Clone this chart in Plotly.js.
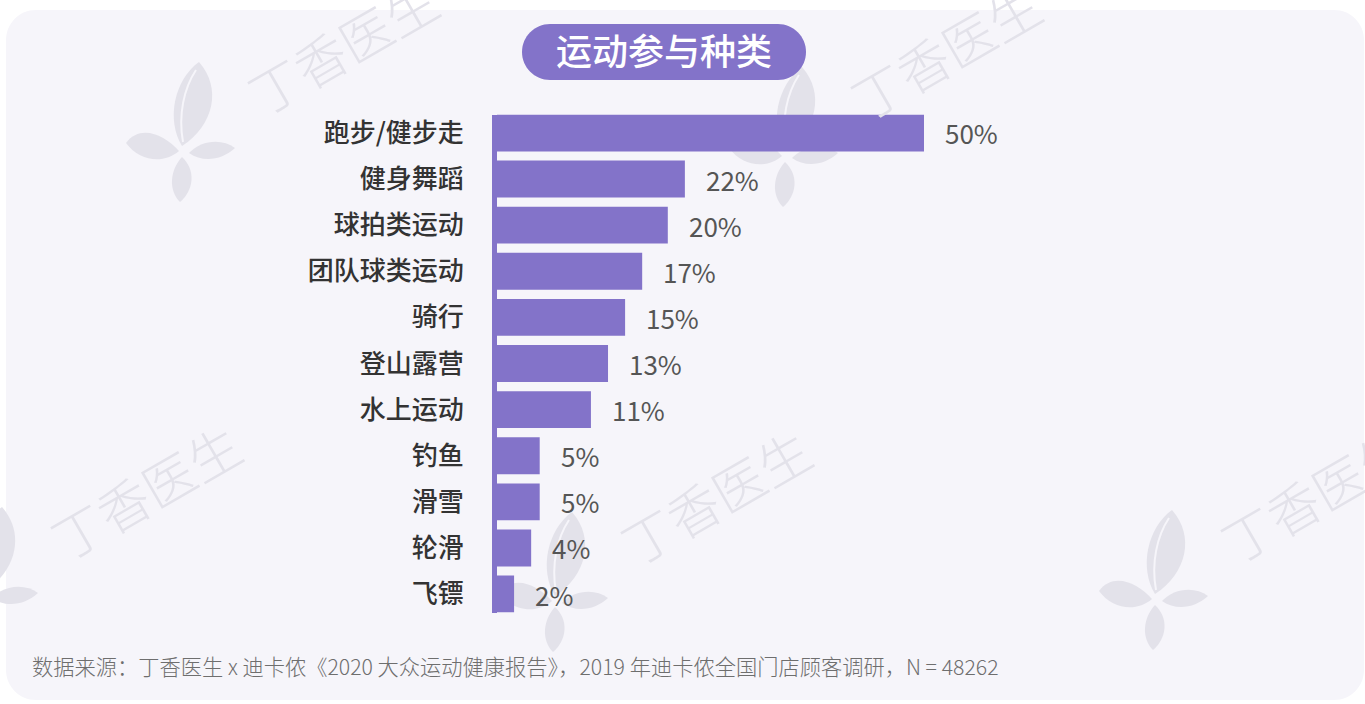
<!DOCTYPE html>
<html>
<head>
<meta charset="utf-8">
<script src="https://cdn.plot.ly/plotly-3.0.1.min.js"></script>
<style>
  html, body { margin: 0; padding: 0; background: #ffffff; }
  #chart { width: 1365px; height: 704px; }
</style>
</head>
<body>
<div id="chart"></div>
<script>
// Sport categories (top to bottom) and share of participants, in percent
const categories = ['跑步/健步走', '健身舞蹈', '球拍类运动', '团队球类运动', '骑行', '登山露营', '水上运动', '钓鱼', '滑雪', '轮滑', '飞镖'];
const shares = [50, 22, 20, 17, 15, 13, 11, 5, 5, 4, 2];
const valueLabels = shares.map(v => v + '%');

const chartTitle = '运动参与种类';
const sourceNote = '数据来源：丁香医生 x 迪卡侬《2020 大众运动健康报告》，2019 年迪卡侬全国门店顾客调研，N = 48262';
const brandText = '丁香医生';

// ---- page geometry & styling ----
const W = 1365, H = 704;
const FAMILY = '"Noto Sans CJK SC", "Noto Sans", sans-serif';
const PURPLE = '#8373C9';
const CARD = '#F6F5FA';
const MARK = '#E3E2EA';

// pixel -> paper coordinates (margins are zero, so paper == page)
const fx = x => x / W;
const fy = y => 1 - y / H;
function pt(x, y) { return fx(x).toFixed(5) + ',' + fy(y).toFixed(5); }
function toPath(segs, ox, oy) {
  return segs.map(s => s[0] + (s.length > 1 ? ' ' + s.slice(1).map(p => pt(ox + p[0], oy + p[1])).join(' ') : '')).join(' ');
}
function roundRect(x0, y0, x1, y1, r) {
  const c = 0.5523 * r;
  return [
    ['M', [x0 + r, y0]], ['L', [x1 - r, y0]],
    ['C', [x1 - r + c, y0], [x1, y0 + r - c], [x1, y0 + r]], ['L', [x1, y1 - r]],
    ['C', [x1, y1 - r + c], [x1 - r + c, y1], [x1 - r, y1]], ['L', [x0 + r, y1]],
    ['C', [x0 + r - c, y1], [x0, y1 - r + c], [x0, y1 - r]], ['L', [x0, y0 + r]],
    ['C', [x0, y0 + r - c], [x0 + r - c, y0], [x0 + r, y0]], ['Z']
  ];
}

// brand leaf logo, relative to its centre
const leafTop = [['M', [0, -4]], ['C', [-16, -30], [-8, -70], [17, -88]], ['C', [40, -62], [32, -25], [0, -4]], ['Z']];
const leafLeft = [['M', [-3, 1]], ['C', [-18, -16], [-42, -26], [-56, -7]], ['C', [-42, 12], [-18, 14], [-3, 1]], ['Z']];
const leafRight = [['M', [7, 3]], ['C', [19, -10], [40, -12], [53, -2]], ['C', [40, 10], [21, 13], [7, 3]], ['Z']];
const leafBottom = [['M', [0, 7]], ['C', [14, 20], [12, 40], [-2, 52]], ['C', [-14, 40], [-12, 20], [0, 7]], ['Z']];
const leafVein = [['M', [1, -8]], ['C', [-4, -35], [2, -62], [14, -80]]];

const logoCentres = [[182, 150], [785, 155], [-15, 595], [555, 600], [1155, 598]];

const shapes = [];
// card background
shapes.push({ type: 'path', xref: 'paper', yref: 'paper', layer: 'below',
  path: toPath(roundRect(6, 10, 1364, 700, 30), 0, 0), fillcolor: CARD, line: { width: 0 } });
// brand marks
logoCentres.forEach(([cx, cy]) => {
  [leafTop, leafLeft, leafRight, leafBottom].forEach(seg => {
    shapes.push({ type: 'path', xref: 'paper', yref: 'paper', layer: 'below',
      path: toPath(seg, cx, cy), fillcolor: MARK, line: { width: 0 } });
  });
  shapes.push({ type: 'path', xref: 'paper', yref: 'paper', layer: 'below',
    path: toPath(leafVein, cx, cy), line: { width: 2, color: CARD } });
});
// title pill
shapes.push({ type: 'path', xref: 'paper', yref: 'paper', layer: 'below',
  path: toPath(roundRect(522, 24, 806, 80, 28), 0, 0), fillcolor: PURPLE, line: { width: 0 } });

const annotations = [];
logoCentres.forEach(([cx, cy]) => {
  annotations.push({ xref: 'paper', yref: 'paper', x: fx(cx + 160), y: fy(cy - 105),
    xanchor: 'center', yanchor: 'middle', text: brandText, textangle: -30, showarrow: false,
    font: { family: FAMILY, size: 52, color: MARK, weight: 300 } });
});
categories.forEach((c, i) => {
  annotations.push({ xref: 'x', yref: 'y', x: shares[i], y: c, text: valueLabels[i],
    xanchor: 'left', yanchor: 'middle', xshift: 19, showarrow: false,
    font: { family: FAMILY, size: 26, color: '#555555', weight: 400 } });
});
annotations.push({ xref: 'paper', yref: 'paper', x: fx(30), y: fy(665), xanchor: 'left', yanchor: 'middle',
  text: sourceNote, showarrow: false, font: { family: FAMILY, size: 21.25, color: '#6e6e6e', weight: 300 } });

const X0 = 497, PX_PER_UNIT = (924 - 497) / 50, XMAX = 60;

const data = [{
  type: 'bar', orientation: 'h',
  x: shares, y: categories,
  marker: { color: PURPLE, line: { width: 0 } },
  hoverinfo: 'skip'
}];

const layout = {
  width: W, height: H,
  margin: { l: 0, r: 0, t: 0, b: 0, pad: 0 },
  paper_bgcolor: '#ffffff', plot_bgcolor: 'rgba(0,0,0,0)',
  showlegend: false,
  bargap: 0.2,
  title: { text: chartTitle, x: fx(664), y: fy(52), xref: 'paper', yref: 'paper', xanchor: 'center', yanchor: 'middle',
    font: { family: FAMILY, size: 36, color: '#ffffff', weight: 500 } },
  xaxis: { range: [0, XMAX], domain: [fx(X0), fx(X0 + XMAX * PX_PER_UNIT)], visible: false, fixedrange: true },
  yaxis: {
    type: 'category', categoryorder: 'array', categoryarray: categories,
    range: [10.4, -0.4], domain: [fy(612.5), fy(114.5)],
    showline: true, linecolor: PURPLE, linewidth: 5,
    ticks: '', showgrid: false, zeroline: false, ticklabelstandoff: 23,
    tickfont: { family: FAMILY, size: 26, color: '#333333', weight: 500 },
    fixedrange: true
  },
  shapes: shapes,
  annotations: annotations
};

Plotly.newPlot('chart', data, layout, { displayModeBar: false, responsive: false });
</script>
</body>
</html>
